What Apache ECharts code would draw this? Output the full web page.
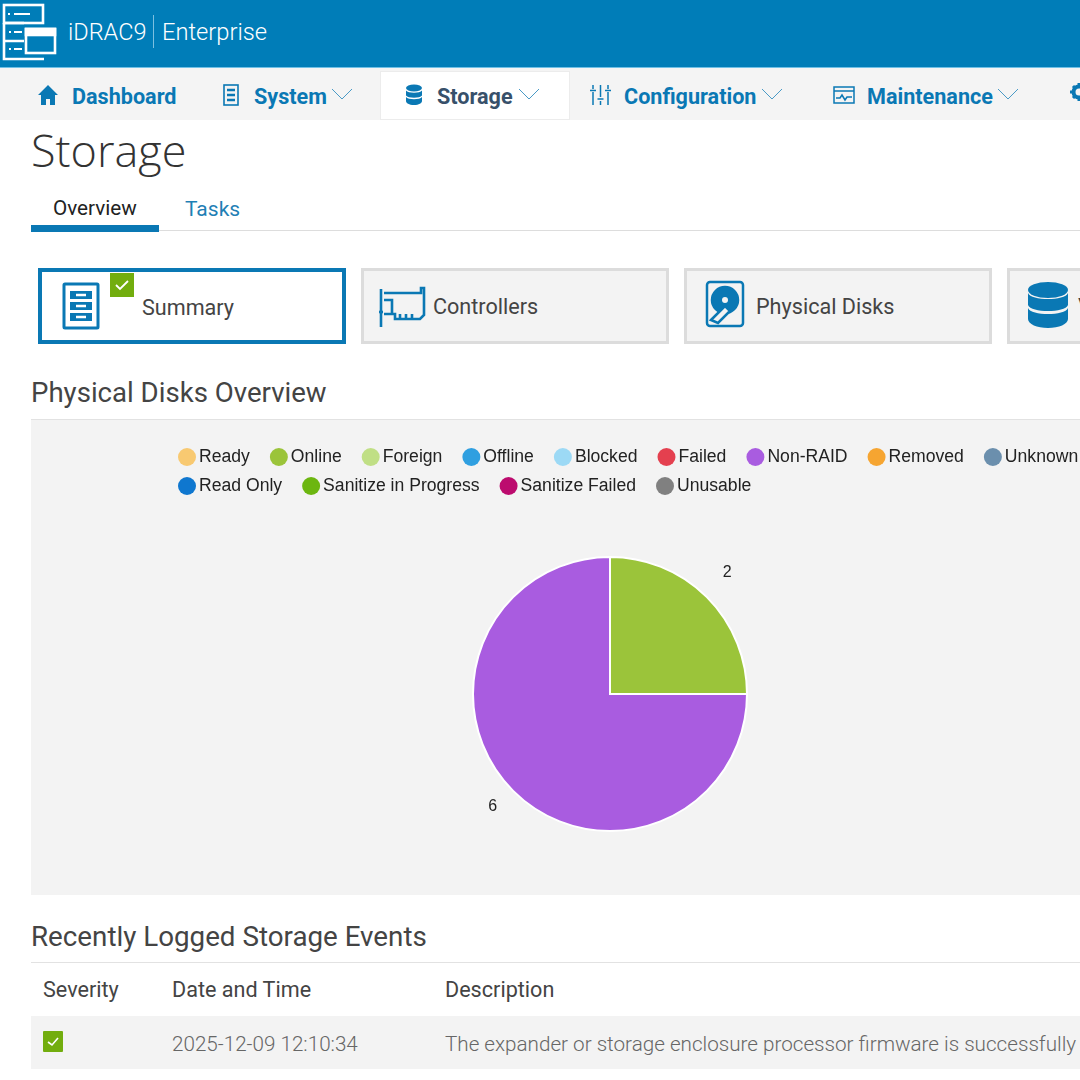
<!DOCTYPE html>
<html><head><meta charset="utf-8">
<script src="https://cdn.jsdelivr.net/npm/echarts@6/dist/echarts.min.js"></script>
<style>
html,body{margin:0;padding:0;background:#fff;overflow:hidden}
#page{position:relative;width:1080px;height:1080px;overflow:hidden;font-family:Roboto,sans-serif;color:#444}
.a{position:absolute;white-space:nowrap}
.nav{font-weight:700;font-size:21.6px;color:#0a78b4;line-height:24px}
.ic{position:absolute;overflow:visible}
.card{position:absolute;top:268px;width:308px;height:76px;box-sizing:border-box;background:#f3f3f3;border:3px solid #dcdcdc}
.cardt{font-size:21.6px;color:#444;line-height:24px}
.h2{font-size:27.6px;color:#444;line-height:32px}
.th{font-size:21.6px;color:#444;line-height:24px}
.td{font-size:20.65px;color:#666;line-height:24px;font-weight:300}
#chart{position:absolute;left:31px;top:420px;width:1049px;height:475px}
</style></head><body>
<div id="page">
<div class="a" style="left:0;top:0;width:1080px;height:67px;background:#007DB8"></div>
<div class="a" style="left:0;top:67px;width:1080px;height:53px;background:#f4f4f4;border-top:1px solid #6fc0e6;box-sizing:border-box"></div>
<div class="a" style="left:380px;top:71px;width:190px;height:49px;background:#fff;border:1px solid #ececec;box-sizing:border-box"></div>

<svg class="ic" style="left:2px;top:3px" width="56" height="56" viewBox="0 0 56 56" fill="none" stroke="#fff" stroke-width="2.6">
<rect x="2" y="2" width="39" height="18"/><path d="M12 11h16M6 11h2" stroke-width="2.200"/><path d="M2 20v36h40M2 38h20M2 20h20"/><path d="M7 29h2M12 29h8M7 46h2M12 46h8" stroke-width="2.200"/>
<rect x="24" y="26" width="29" height="24" fill="#007DB8"/><rect x="24" y="26" width="29" height="6" fill="#fff"/></svg>
<div class="a" style="left:68px;top:18px;font-size:23.5px;font-weight:300;color:#fff;line-height:28px">iDRAC9</div>
<div class="a" style="left:153px;top:15px;width:1px;height:33px;background:#7cc0e0"></div>
<div class="a" style="left:162px;top:18px;font-size:23.7px;font-weight:300;color:#fff;line-height:28px">Enterprise</div>

<svg class="ic" style="left:38px;top:85px" width="20" height="20" viewBox="0 0 20 20"><path d="M10 0L0 10h3v10h5v-6h4v6h5V10h3z" fill="#0a78b4"/></svg>
<div class="a nav" style="left:72px;top:85px">Dashboard</div>
<svg class="ic" style="left:222px;top:84px" width="18" height="22" viewBox="0 0 18 22" fill="none" stroke="#0a78b4" stroke-width="1.6"><rect x="2" y="1" width="14" height="20"/><path d="M5 6h8M5 11h8M5 16h8" stroke-width="2.500"/></svg>
<div class="a nav" style="left:254px;top:85px">System</div>
<svg class="ic" style="left:331px;top:88px" width="22" height="13" viewBox="0 0 22 13" fill="none" stroke="#4a9ac6" stroke-width="1"><path d="M1 1l10 10L21 1"/></svg>
<svg class="ic" style="left:405px;top:84px" width="18" height="22" viewBox="0 0 18 22" fill="#0a78b4"><ellipse cx="9" cy="4" rx="8" ry="3.500"/><path d="M1 6.500c2 3 14 3 16 0v5c-2 3-14 3-16 0zM1 13c2 3 14 3 16 0v4c0 2-3 4-8 4s-8-2-8-4z"/></svg>
<div class="a nav" style="left:437px;top:85px;color:#37506a">Storage</div>
<svg class="ic" style="left:518px;top:88px" width="22" height="13" viewBox="0 0 22 13" fill="none" stroke="#4a9ac6" stroke-width="1"><path d="M1 1l10 10L21 1"/></svg>
<svg class="ic" style="left:590px;top:84px" width="21" height="22" viewBox="0 0 21 22" fill="none" stroke="#0a78b4" stroke-width="1.5"><path d="M3 1v4M3 8v13M10.500 1v12M10.500 17v4M18 1v4M18 8v13M0 6.500h6M7.500 15h6M15 6.500h6"/></svg>
<div class="a nav" style="left:624px;top:85px">Configuration</div>
<svg class="ic" style="left:761px;top:88px" width="22" height="13" viewBox="0 0 22 13" fill="none" stroke="#4a9ac6" stroke-width="1"><path d="M1 1l10 10L21 1"/></svg>
<svg class="ic" style="left:833px;top:86px" width="22" height="18" viewBox="0 0 22 18" fill="none" stroke="#0a78b4" stroke-width="1.5"><rect x="1" y="1" width="20" height="16"/><path d="M1 5h20M3 12h4l2-3 3 5 2-3h5"/></svg>
<div class="a nav" style="left:867px;top:85px">Maintenance</div>
<svg class="ic" style="left:997px;top:88px" width="22" height="13" viewBox="0 0 22 13" fill="none" stroke="#4a9ac6" stroke-width="1"><path d="M1 1l10 10L21 1"/></svg>
<svg class="ic" style="left:1070px;top:83px" width="18" height="18" viewBox="0 0 18 18"><circle cx="9" cy="9" r="5.500" fill="none" stroke="#0a78b4" stroke-width="4"/><path d="M9 0v18M0 9h18M3 3l12 12M15 3L3 15" stroke="#0a78b4" stroke-width="3" stroke-dasharray="3 12"/></svg>

<div class="a" style="left:31px;top:120px;font-family:'Open Sans',sans-serif;font-size:45px;font-weight:300;color:#333;line-height:60px">Storage</div>
<div class="a" style="left:53px;top:196px;font-size:20.7px;color:#222;line-height:24px">Overview</div>
<div class="a" style="left:185px;top:197px;font-size:21px;color:#1f80b5;line-height:24px">Tasks</div>
<div class="a" style="left:31px;top:230px;width:1049px;height:1px;background:#ddd"></div>
<div class="a" style="left:31px;top:225px;width:128px;height:7px;background:#0a78b4"></div>

<div class="card" style="left:38px;background:#fff;border:4px solid #0a78b4"></div>
<svg class="ic" style="left:62px;top:282px" width="38" height="48" viewBox="0 0 38 48" fill="none" stroke="#0a78b4" stroke-width="3"><rect x="2" y="2" width="34" height="44" rx="1"/><path d="M8 13h22M8 24h22M8 35h22" stroke-width="8"/><path d="M14 13h10M14 24h10M14 35h10" stroke="#fff" stroke-width="2.500"/></svg>
<svg class="ic" style="left:110px;top:273px" width="24" height="24" viewBox="0 0 24 24"><rect width="24" height="24" fill="#72ad0e"/><path d="M6 12l4 4 8-8" fill="none" stroke="#fff" stroke-width="1.800"/></svg>
<div class="a cardt" style="left:142px;top:296px">Summary</div>
<div class="card" style="left:361px"></div>
<svg class="ic" style="left:378px;top:286px" width="48" height="42" viewBox="0 0 48 42" fill="none" stroke="#0a78b4" stroke-width="2.600"><path d="M3 3v38"/><path d="M1 26h4"/><path d="M6 7h37V2h3v27l-4 4H17v-5H6M6 14h8v14"/><path d="M22 33v-5M28 33v-5M34 33v-5"/></svg>
<div class="a cardt" style="left:433px;top:295px">Controllers</div>
<div class="card" style="left:684px"></div>
<svg class="ic" style="left:705px;top:280px" width="40" height="48" viewBox="0 0 40 48" fill="none" stroke="#0a78b4" stroke-width="2.500"><rect x="2" y="2" width="36" height="44" rx="3"/><circle cx="20" cy="20" r="13" fill="#0a78b4"/><circle cx="20" cy="20" r="3" fill="#f3f3f3" stroke="none"/><path d="M6 40l14-14 5 5-12 12z" fill="#f3f3f3"/></svg>
<div class="a cardt" style="left:756px;top:295px">Physical Disks</div>
<div class="card" style="left:1007px"></div>
<svg class="ic" style="left:1028px;top:282px" width="40" height="46" viewBox="0 0 40 46" fill="#0a78b4"><ellipse cx="20" cy="8" rx="20" ry="8"/><path d="M0 11c3 8 37 8 40 0v12c-3 8-37 8-40 0zM0 26c3 8 37 8 40 0v11c0 5-9 9-20 9S0 42 0 37z"/></svg>
<div class="a cardt" style="left:1078px;top:295px">V</div>

<div class="a h2" style="left:31px;top:377px">Physical Disks Overview</div>
<div class="a" style="left:31px;top:419px;width:1049px;height:1px;background:#e2e2e2"></div>
<div class="a" style="left:31px;top:420px;width:1049px;height:475px;background:#F3F3F3"></div>
<div id="chart"></div>

<div class="a h2" style="left:31px;top:921px;font-size:27.75px">Recently Logged Storage Events</div>
<div class="a" style="left:31px;top:962px;width:1049px;height:1px;background:#e2e2e2"></div>
<div class="a th" style="left:43px;top:978px">Severity</div>
<div class="a th" style="left:172px;top:978px">Date and Time</div>
<div class="a th" style="left:445px;top:978px">Description</div>
<div class="a" style="left:31px;top:1016px;width:1049px;height:53px;background:#F3F3F3"></div>
<svg class="ic" style="left:43px;top:1031px" width="20" height="21" viewBox="0 0 20 21"><rect width="20" height="21" rx="1" fill="#72ad0e"/><path d="M5 11l4 3 6-7" fill="none" stroke="#fff" stroke-width="1.600"/></svg>
<div class="a td" style="left:172px;top:1032px">2025-12-09 12:10:34</div>
<div class="a td" style="left:445px;top:1032px">The expander or storage enclosure processor firmware is successfully</div>
</div>
<script>
const legendRow1 = ['Ready','Online','Foreign','Offline','Blocked','Failed','Non-RAID','Removed','Unknown'];
const legendRow2 = ['Read Only','Sanitize in Progress','Sanitize Failed','Unusable'];
const categories = legendRow1.concat(legendRow2);
const diskCounts = [0,2,0,0,0,0,6,0,0,0,0,0,0];
const sliceColors = ['#F8C971','#9BC43A','#C0DF85','#2F9FE0','#9CD9F5','#E4404F','#A95CE0','#F6A531','#6B8FAD','#0F77CF','#6CB610','#BC0B6E','#808080'];

const chart = echarts.init(document.getElementById('chart'), null, {renderer:'canvas'});
const legendBase = {
  orient:'horizontal', icon:'circle', itemWidth:18, itemHeight:18, itemGap:20,
  width:1100, padding:0, selectedMode:false,
  itemStyle:{borderWidth:0},
  textStyle:{fontFamily:'"Liberation Sans",Arial,sans-serif', fontSize:17.6, color:'#222', padding:[0,0,0,-2]}
};
chart.setOption({
  animation:false,
  backgroundColor:'transparent',
  color:sliceColors,
  legend:[
    Object.assign({}, legendBase, {left:147, top:28, data:legendRow1}),
    Object.assign({}, legendBase, {left:147, top:57, data:legendRow2})
  ],
  series:[{
    type:'pie',
    center:[579,274],
    radius:[0,137],
    startAngle:90,
    clockwise:true,
    silent:true,
    itemStyle:{borderColor:'#fff', borderWidth:2},
    label:{show:true, position:'outside', color:'#222', fontFamily:'"Liberation Sans",Arial,sans-serif', fontSize:16, formatter:'{c}'},
    labelLine:{show:false, length:24, length2:0},
    labelLayout:p=>p.text==='2'?{dx:-6,dy:-8}:{dx:6,dy:-1},
    data:categories.map((name,i)=>({
      name, value:diskCounts[i],
      label:{show:diskCounts[i]>0}
    }))
  }]
});
</script>
</body></html>
